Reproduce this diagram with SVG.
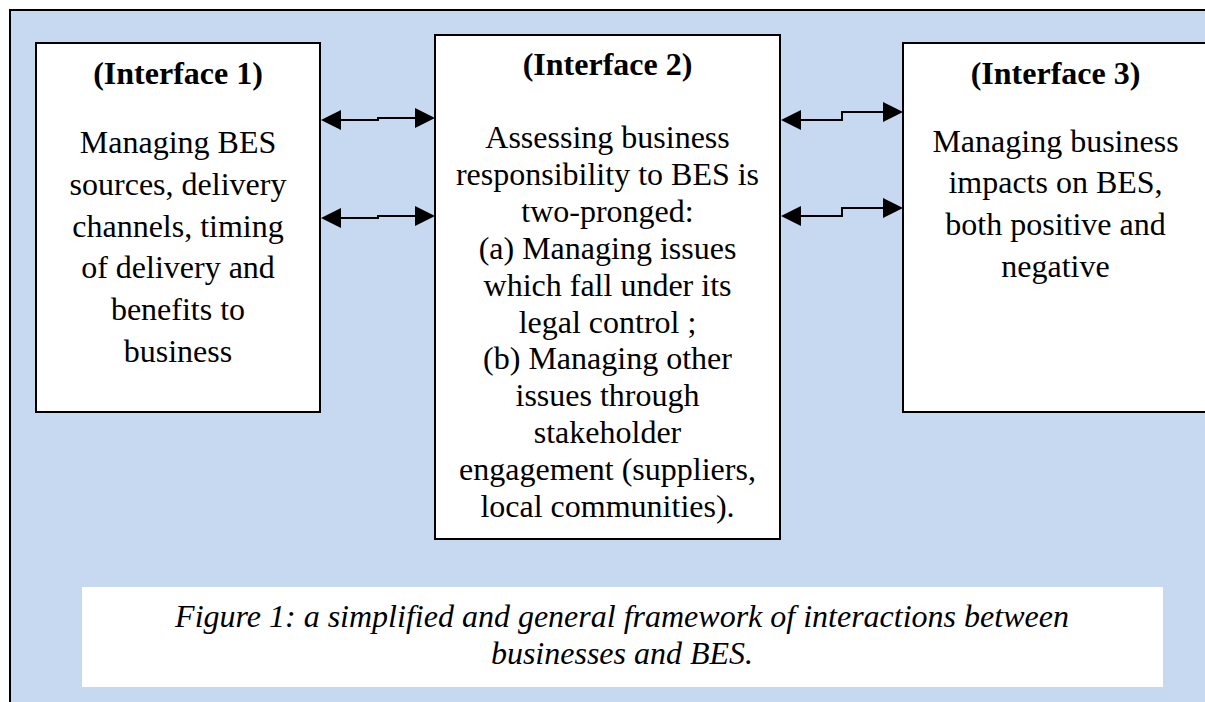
<svg xmlns="http://www.w3.org/2000/svg" width="1205" height="702" viewBox="0 0 1205 702">
<style>
.box{fill:#ffffff;stroke:#000000;stroke-width:2}
.t{font-family:"Liberation Serif","Times New Roman",serif;font-size:32px;fill:#000000;text-anchor:middle}
.b{font-weight:bold}
.i{font-style:italic}
.c{fill:none;stroke:#000000;stroke-width:2;marker-start:url(#ah);marker-end:url(#ah)}
</style>
<defs>
<marker id="ah" viewBox="0 0 20 20" refX="10" refY="10" markerWidth="20" markerHeight="20" markerUnits="userSpaceOnUse" orient="auto-start-reverse">
<path d="M0,0 L20,10 L0,20 Z" fill="#000000"/>
</marker>
</defs>
<rect x="0" y="0" width="1205" height="702" fill="#ffffff"/>
<rect id="frame" x="10" y="10" width="1205" height="702" fill="#C6D9F0" stroke="#000000" stroke-width="2"/>
<g id="connectors">
<path class="c" d="M331,120 H378 V118 H425"/>
<path class="c" d="M331,218 H378 V216 H425"/>
<path class="c" d="M791,120 H842 V112 H893"/>
<path class="c" d="M791,216 H842 V208 H893"/>
</g>
<g id="interface1">
<rect class="box" x="36" y="43" width="284" height="369"/>
<text class="t b" x="178" y="84">(Interface 1)</text>
<text class="t" x="178" y="153">Managing BES</text>
<text class="t" x="178" y="195">sources, delivery</text>
<text class="t" x="178" y="237">channels, timing</text>
<text class="t" x="178" y="278">of delivery and</text>
<text class="t" x="178" y="320">benefits to</text>
<text class="t" x="178" y="362">business</text>
</g>
<g id="interface2">
<rect class="box" x="435" y="35" width="345" height="504"/>
<text class="t b" x="607.5" y="75">(Interface 2)</text>
<text class="t" x="607.5" y="148">Assessing business</text>
<text class="t" x="607.5" y="185">responsibility to BES is</text>
<text class="t" x="607.5" y="222">two-pronged:</text>
<text class="t" x="607.5" y="259">(a) Managing issues</text>
<text class="t" x="607.5" y="296">which fall under its</text>
<text class="t" x="607.5" y="333">legal control ;</text>
<text class="t" x="607.5" y="369">(b) Managing other</text>
<text class="t" x="607.5" y="406">issues through</text>
<text class="t" x="607.5" y="443">stakeholder</text>
<text class="t" x="607.5" y="480">engagement (suppliers,</text>
<text class="t" x="607.5" y="517">local communities).</text>
</g>
<g id="interface3">
<rect class="box" x="903" y="43" width="320" height="369"/>
<text class="t b" x="1055.5" y="84">(Interface 3)</text>
<text class="t" x="1055.5" y="152">Managing business</text>
<text class="t" x="1055.5" y="193">impacts on BES,</text>
<text class="t" x="1055.5" y="235">both positive and</text>
<text class="t" x="1055.5" y="277">negative</text>
</g>
<g id="caption">
<rect x="82" y="587" width="1081" height="100" fill="#ffffff"/>
<text class="t i" x="622" y="627">Figure 1: a simplified and general framework of interactions between</text>
<text class="t i" x="622" y="664">businesses and BES.</text>
</g>
</svg>
